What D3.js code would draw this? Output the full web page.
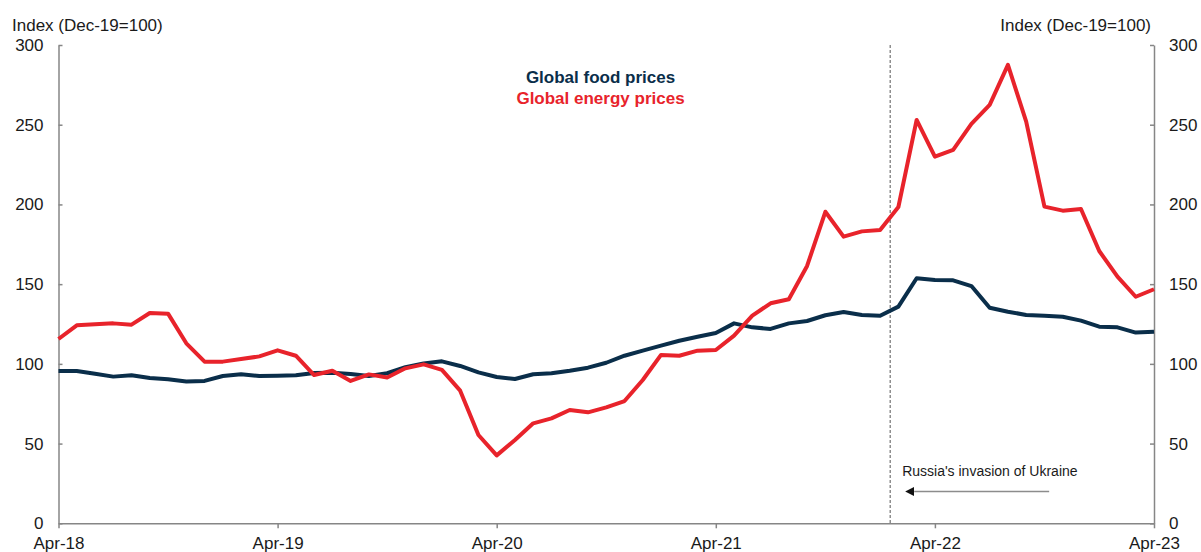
<!DOCTYPE html>
<html>
<head>
<meta charset="utf-8">
<script src="https://cdn.jsdelivr.net/npm/d3@7"></script>
<style>
  body { margin: 0; background: #fff; }
  svg { display: block; font-family: "Liberation Sans", Arial, sans-serif; }
</style>
</head>
<body>
<svg id="chart" width="1201" height="552"></svg>
<script>
// monthly, Apr-18 .. Apr-23
const months = d3.timeMonth.range(new Date(2018, 3, 1), new Date(2023, 4, 1));
const tickLabels = ['Apr-18', 'Apr-19', 'Apr-20', 'Apr-21', 'Apr-22', 'Apr-23'];
const yTicks = [0, 50, 100, 150, 200, 250, 300];

const foodPrices = [
  95.5, 95.5, 93.8, 92.0, 92.8, 91.1, 90.3, 89.0, 89.3, 92.4, 93.5, 92.4,
  92.6, 92.8, 94.3, 94.4, 93.6, 92.4, 94.1, 97.9, 100.3, 101.6, 98.7, 94.7,
  91.8, 90.5, 93.5, 94.1, 95.7, 97.6, 100.7, 105.1, 108.3, 111.4, 114.5, 117.0,
  119.4, 125.4, 122.9, 121.9, 125.4, 126.9, 130.5, 132.5, 130.7, 130.2, 135.9, 153.7,
  152.6, 152.4, 148.8, 135.2, 132.7, 130.7, 130.2, 129.6, 127.1, 123.3, 122.9, 119.6,
  120.2
];
const energyPrices = [
  115.6, 124.2, 124.8, 125.4, 124.6, 131.9, 131.5, 112.9, 101.4, 101.4, 103.0, 104.7,
  108.5, 105.1, 93.0, 95.7, 89.3, 93.4, 91.5, 97.2, 99.7, 96.2, 83.2, 55.4,
  42.6, 52.2, 62.7, 65.8, 71.1, 69.6, 72.7, 76.7, 89.9, 105.6, 105.1, 108.3,
  108.7, 117.7, 130.2, 138.0, 140.5, 161.4, 195.4, 179.8, 183.1, 184.0, 198.4, 253.0,
  230.0, 234.2, 250.5, 262.4, 287.5, 251.9, 198.6, 196.1, 197.1, 170.8, 154.7, 142.1,
  146.8
];
const invasionMonth = 45.55; // position on the month index

const width = 1201, height = 552;
const margin = { top: 45, right: 47, bottom: 28.7, left: 58.5 };
const svg = d3.select('#chart');

const x = d3.scaleLinear()
  .domain([0, months.length - 1])
  .range([margin.left, width - margin.right]);
const y = d3.scaleLinear()
  .domain([0, 300])
  .range([height - margin.bottom, margin.top]);

const axisColor = '#868686';
const textColor = '#1a1a1a';

// axes
const xAxis = d3.axisBottom(x)
  .tickValues(d3.range(0, months.length, 12))
  .tickFormat((d, i) => tickLabels[i])
  .tickSize(5)
  .tickSizeOuter(0);
const yLeft = d3.axisLeft(y).tickValues(yTicks).tickSize(-4).tickSizeOuter(0).tickPadding(15);
const yRight = d3.axisRight(y).tickValues(yTicks).tickSize(-4).tickSizeOuter(0).tickPadding(15);

function styleAxis(g) {
  g.select('.domain').attr('stroke', axisColor).attr('stroke-width', 1.5);
  g.selectAll('.tick line').attr('stroke', axisColor).attr('stroke-width', 1.5);
  g.selectAll('.tick text').attr('fill', textColor).attr('font-size', 17)
    .attr('font-family', '"Liberation Sans", Arial, sans-serif');
}

svg.append('g')
  .attr('transform', `translate(${margin.left},0)`)
  .call(yLeft).call(styleAxis);
svg.append('g')
  .attr('transform', `translate(${width - margin.right},0)`)
  .call(yRight).call(styleAxis);
svg.append('g')
  .attr('transform', `translate(0,${y(0)})`)
  .call(xAxis).call(styleAxis)
  .selectAll('.tick text').attr('dy', '1.05em');

// axis titles
svg.append('text')
  .attr('x', 12).attr('y', 31)
  .attr('font-size', 17).attr('fill', textColor)
  .text('Index (Dec-19=100)');
svg.append('text')
  .attr('x', width - margin.right - 3).attr('y', 31)
  .attr('text-anchor', 'end')
  .attr('font-size', 17).attr('fill', textColor)
  .text('Index (Dec-19=100)');

// invasion marker
const xi = x(invasionMonth);
svg.append('line')
  .attr('x1', xi).attr('x2', xi)
  .attr('y1', y(300)).attr('y2', y(0))
  .attr('stroke', '#555').attr('stroke-width', 1)
  .attr('stroke-dasharray', '3,2');

svg.append('defs').append('marker')
  .attr('id', 'arrow')
  .attr('viewBox', '0 0 10 10')
  .attr('refX', 0).attr('refY', 5)
  .attr('markerWidth', 6).attr('markerHeight', 6)
  .attr('orient', 'auto-start-reverse')
  .append('path')
  .attr('d', 'M0,0L10,5L0,10Z')
  .attr('fill', '#111');

svg.append('line')
  .attr('x1', xi + 159).attr('x2', xi + 24)
  .attr('y1', 491.5).attr('y2', 491.5)
  .attr('stroke', '#8c8c8c').attr('stroke-width', 1.5)
  .attr('marker-end', 'url(#arrow)');

svg.append('text')
  .attr('x', xi + 12).attr('y', 476)
  .attr('font-size', 14).attr('fill', textColor)
  .text("Russia's invasion of Ukraine");

// series
const line = d3.line()
  .x((d, i) => x(i))
  .y(d => y(d));

const series = [
  { name: 'Global food prices', values: foodPrices, color: '#0a2e4a' },
  { name: 'Global energy prices', values: energyPrices, color: '#e8232b' }
];

svg.selectAll('path.series')
  .data(series)
  .enter()
  .append('path')
  .attr('class', 'series')
  .attr('fill', 'none')
  .attr('stroke', d => d.color)
  .attr('stroke-width', 4)
  .attr('stroke-linejoin', 'round')
  .attr('d', d => line(d.values));

// legend
svg.selectAll('text.legend')
  .data(series)
  .enter()
  .append('text')
  .attr('class', 'legend')
  .attr('x', 600.5)
  .attr('y', (d, i) => 83 + i * 21)
  .attr('text-anchor', 'middle')
  .attr('font-size', 17)
  .attr('font-weight', 'bold')
  .attr('fill', d => d.color)
  .text(d => d.name);
</script>
</body>
</html>
